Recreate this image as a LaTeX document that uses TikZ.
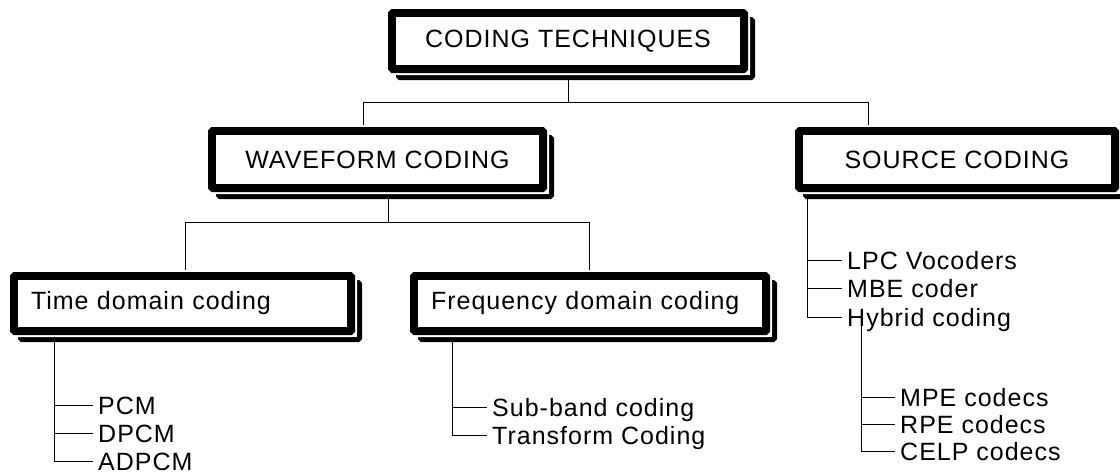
\documentclass[tikz,border=0pt]{standalone}
\usepackage{fontspec}
\setmainfont{Liberation Sans}[LetterSpace=4]
\usetikzlibrary{positioning,backgrounds}

\tikzset{
  codebox/.style={draw, line width=6pt, fill=white, rounded corners=1.5pt, inner sep=0pt,
    font=\fontsize{25}{30}\selectfont,
    preaction={draw, fill, line width=5pt, transform canvas={shift={(7.5pt,-7.5pt)}}},
    preaction={draw=white, line width=10pt}},
  leftbox/.style={codebox, align=left, inner xsep=18pt},
  leaf/.style={anchor=west, inner xsep=5pt, inner ysep=0pt, text height=18pt, text depth=0pt,
    font=\fontsize{25}{30}\selectfont},
  link/.style={line width=2.5pt}
}

\begin{document}
\begin{tikzpicture}[x=1pt, y=-1pt]
  \useasboundingbox (0,0) rectangle (1120,472);

  % boxes
  \node [codebox, minimum width=354pt, minimum height=58pt] (top) at (568,41) {CODING TECHNIQUES};
  \node [codebox, minimum width=333pt, minimum height=59pt] (wave) at (377.5,159.5) {WAVEFORM CODING};
  \node [codebox, minimum width=318pt, minimum height=59pt] (src) at (957,159.5) {SOURCE CODING};
  \node [leftbox, text width=303pt, minimum height=57pt] (time) at (182.5,303.5) {Time domain coding};
  \node [leftbox, text width=318pt, minimum height=57pt] (freq) at (590,303.5) {Frequency domain coding};

  \foreach \n in {top,wave,src,time,freq}
    \draw [line width=2pt] ([shift={(7pt,-7pt)}]\n.north west) rectangle ([shift={(-7pt,7pt)}]\n.south east);

  % leaves
  \node [leaf] (pcm) at (93,405) {PCM};
  \node [leaf] (dpcm) at (93,433) {DPCM};
  \node [leaf] (adpcm) at (93,461) {ADPCM};
  \node [leaf] (sub) at (487,407) {Sub-band coding};
  \node [leaf] (trans) at (487,435) {Transform Coding};
  \node [leaf] (lpc) at (842,260) {LPC Vocoders};
  \node [leaf] (mbe) at (842,288) {MBE coder};
  \node [leaf] (hyb) at (842,317) {Hybrid coding};
  \node [leaf] (mpe) at (895,397) {MPE codecs};
  \node [leaf] (rpe) at (895,424) {RPE codecs};
  \node [leaf] (celp) at (895,451) {CELP codecs};

  % connectors
  \begin{scope}[on background layer, link]
    \coordinate (a1) at (363,102);
    \coordinate (a2) at (868,102);
    \draw (top.south) -- (top.south |- a1);
    \draw (wave.north -| a1) |- (a2) -- (src.north -| a2);
    \coordinate (b0) at (388,190);
    \coordinate (b1) at (185,222);
    \coordinate (b2) at (589,222);
    \draw (b0) -- (b0 |- b1);
    \draw (time.north -| b1) |- (b2) -- (freq.north -| b2);
    \coordinate (t0) at (54,335);
    \foreach \m in {pcm,dpcm,adpcm}
      \draw (t0) |- (\m.west);
    \coordinate (f0) at (452,335);
    \foreach \m in {sub,trans}
      \draw (f0) |- (\m.west);
    \coordinate (s0) at (807,190);
    \foreach \m in {lpc,mbe,hyb}
      \draw (s0) |- (\m.west);
    \coordinate (h0) at (861,326);
    \foreach \m in {mpe,rpe,celp}
      \draw (h0) |- (\m.west);
  \end{scope}
\end{tikzpicture}
\end{document}
